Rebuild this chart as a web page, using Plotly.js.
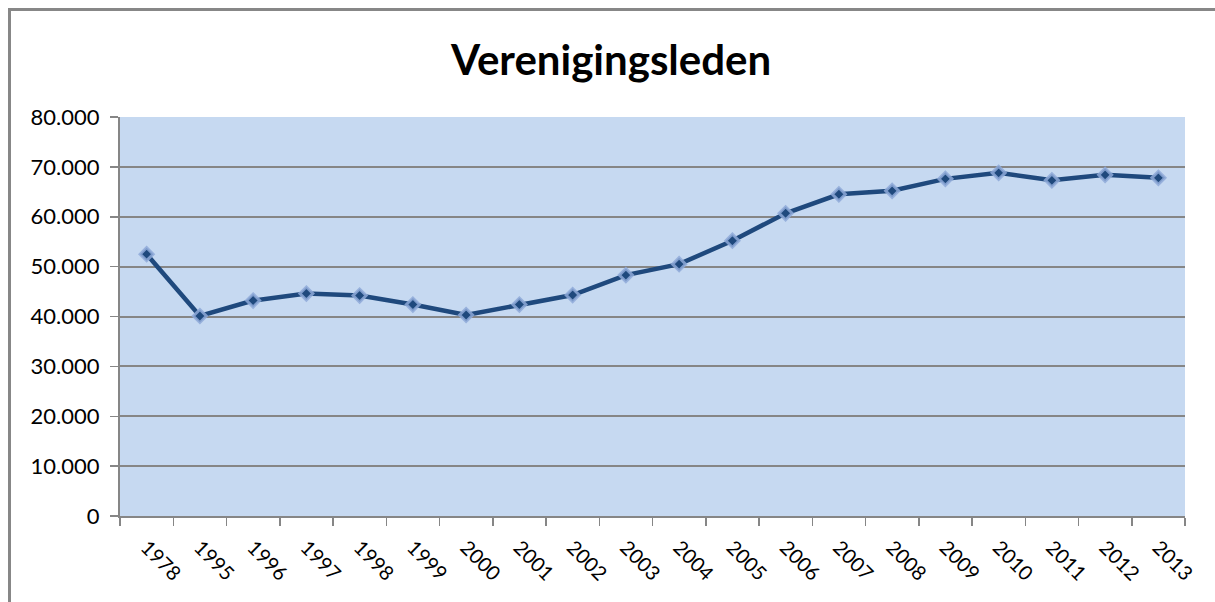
<!DOCTYPE html>
<html>
<head>
<meta charset="utf-8">
<script src="https://cdn.plot.ly/plotly-3.0.1.min.js"></script>
<style>
html,body{margin:0;padding:0;background:#fff;}
#wrap{position:absolute;left:0;top:0;width:1215px;height:602px;}
#frame{position:absolute;left:8px;top:8px;width:1207px;height:594px;border-left:3px solid #878787;border-top:3px solid #878787;box-sizing:border-box;pointer-events:none;}
#chart{position:absolute;left:0;top:0;width:1215px;height:602px;}
</style>
</head>
<body>
<div id="wrap"><div id="chart"></div><div id="frame"></div></div>
<script>
const years = ["1978","1995","1996","1997","1998","1999","2000","2001","2002","2003","2004","2005","2006","2007","2008","2009","2010","2011","2012","2013"];
const members = [52500,40100,43200,44600,44200,42400,40300,42400,44300,48300,50500,55200,60700,64500,65200,67600,68800,67300,68400,67800];
const yTicks = [0,10000,20000,30000,40000,50000,60000,70000,80000];

const trace = {
  x: years, y: members, type: 'scatter', mode: 'lines+markers',
  line: {color: '#1F497D', width: 4.5},
  marker: {symbol: 'diamond', size: 10, color: '#1F497D', line: {color: 'rgba(142,169,216,0.85)', width: 3}},
  hoverinfo: 'x+y'
};
const layout = {
  width: 1215, height: 602,
  margin: {l: 120, r: 30, t: 117, b: 86},
  paper_bgcolor: 'rgba(0,0,0,0)',
  plot_bgcolor: '#C6D9F1',
  separators: ',.',
  showlegend: false,
  font: {family: 'Lato, "Open Sans", sans-serif', color: '#000'},
  title: {text: 'Verenigingsleden', x: 0.503, xanchor: 'center', y: 0.9, yanchor: 'middle', font: {size: 42, family: 'Lato, sans-serif', weight: 'bold', color: '#000'}},
  xaxis: {
    type: 'category', range: [-0.5, 19.5], tickangle: 45, tickson: 'boundaries', ticks: 'outside', ticklen: 8, tickwidth: 1.5, tickcolor: '#868686',
    showline: true, linecolor: '#868686', linewidth: 2, showgrid: false, zeroline: false,
    tickfont: {size: 20, color: '#000'}, ticklabelstandoff: 10
  },
  yaxis: {
    range: [0, 80000], tickvals: yTicks, tickformat: ',d', ticks: 'outside', ticklen: 8, tickwidth: 1.5, tickcolor: '#868686',
    showline: true, linecolor: '#868686', linewidth: 2, showgrid: true, gridcolor: '#868686', gridwidth: 2, zeroline: false,
    tickfont: {size: 22, color: '#000'}, ticklabelstandoff: 6
  }
};
Plotly.newPlot('chart', [trace], layout, {displayModeBar: false, staticPlot: true});
</script>
</body>
</html>
